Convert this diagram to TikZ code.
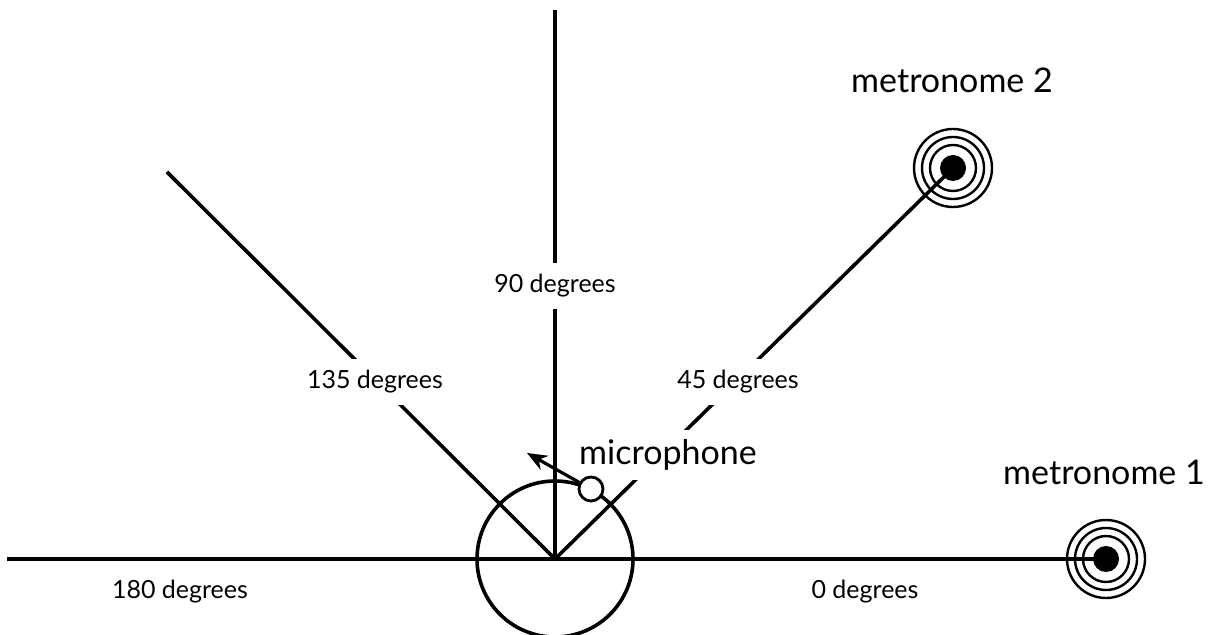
\documentclass[tikz,border=0pt]{standalone}
\usepackage{fontspec}
\setmainfont{Lato}
\usetikzlibrary{arrows.meta, positioning, calc}

\tikzset{
  ray/.style={line width=1.8pt},
  deglabel/.style={font=\fontsize{12.5}{15}\selectfont, inner sep=2pt},
  gaplabel/.style={deglabel, fill=white, inner xsep=1pt, inner ysep=6pt},
  biglabel/.style={font=\fontsize{17}{20}\selectfont, inner sep=0pt},
  ring/.style={line width=1.2pt},
}

\begin{document}
\begin{tikzpicture}[x=0.5pt, y=-0.5pt]
  \useasboundingbox (0,0) rectangle (1209,635);
  % centre and far ends of the rays
  \coordinate (O) at (555,559);
  \coordinate (end180) at (7,559);
  \coordinate (end90) at (555,10);
  \coordinate (end135) at (167,172);
  \coordinate (met1) at (1106,559);
  \coordinate (met2) at (953,168);
  % rays
  \draw[ray] (end180) -- (O);
  \draw[ray] (O) -- (met1);
  \draw[ray] (O) -- (end90);
  \draw[ray] (O) -- (end135);
  \draw[ray] (O) -- (met2);
  % metronomes
  \foreach \m in {met1, met2} {
    \fill (\m) circle (13);
    \foreach \r in {23, 31, 39}
      \draw[ring] (\m) circle (\r);
  }
  % labels
  \node[gaplabel] (lbl90) at (555,286) {90 degrees};
  \node[gaplabel] (lbl135) at (375,382) {135 degrees};
  \node[gaplabel] (lbl45) at (738,382) {45 degrees};
  \node[deglabel] (lbl180) at (180,592) {180 degrees};
  \node[deglabel] (lbl0) at (865,592) {0 degrees};
  \node[biglabel, fill=white, inner ysep=5pt] (micname) at (668,455) {microphone};
  \node[biglabel] (met2name) at (952,80) {metronome 2};
  \node[biglabel] (met1name) at (1104,472) {metronome 1};
  % microphone path
  \draw[ray] (O) circle (78);
  % microphone
  \node[draw, circle, fill=white, line width=1.4pt, minimum size=12pt, inner sep=0pt] (mic) at (591,489) {};
  \coordinate (micdir) at (527,453);
  \draw[line width=1.6pt, -{Stealth[length=10pt, width=8pt]}] (mic) -- (micdir);
\end{tikzpicture}
\end{document}
